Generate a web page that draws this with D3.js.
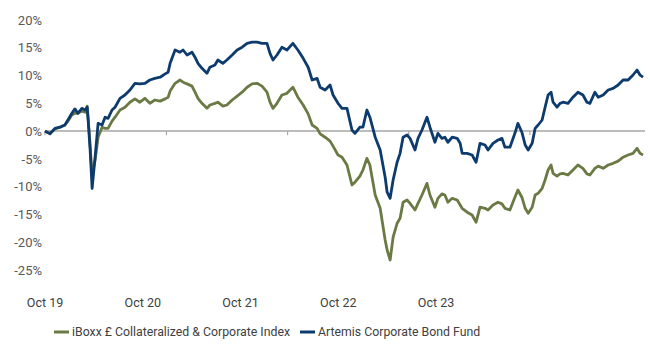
<!DOCTYPE html>
<html>
<head>
<meta charset="utf-8">
<script src="https://cdn.jsdelivr.net/npm/d3@7"></script>
<style>
  body { margin: 0; background: #fff; }
  text { font-family: Roboto, "Liberation Sans", sans-serif; }
</style>
</head>
<body>
<div id="chart-area"></div>
<script>

const dates = [
  '2019-10-01','2019-10-16','2019-10-31','2019-11-15','2019-11-30','2019-12-09','2019-12-21','2019-12-30',
  '2020-01-08','2020-01-20','2020-01-30','2020-02-05','2020-02-08','2020-02-14','2020-02-20','2020-02-29',
  '2020-03-09','2020-03-21','2020-03-30','2020-04-08','2020-04-20','2020-04-29','2020-05-14','2020-05-29',
  '2020-06-13','2020-06-28','2020-07-13','2020-07-28','2020-08-12','2020-08-27','2020-09-12','2020-09-27',
  '2020-10-06','2020-10-12','2020-10-27','2020-11-11','2020-11-20','2020-12-02','2020-12-17','2020-12-26',
  '2021-01-04','2021-01-16','2021-01-31','2021-02-09','2021-02-24','2021-03-05','2021-03-20','2021-04-01',
  '2021-04-17','2021-05-02','2021-05-17','2021-06-01','2021-06-16','2021-07-01','2021-07-16','2021-07-31',
  '2021-08-09','2021-08-18','2021-08-30','2021-09-14','2021-09-29','2021-10-17','2021-11-01','2021-11-17',
  '2021-12-02','2021-12-14','2021-12-29','2022-01-07','2022-01-22','2022-02-06','2022-02-15','2022-03-02',
  '2022-03-14','2022-03-29','2022-04-13','2022-04-22','2022-05-07','2022-05-16','2022-05-28','2022-06-06',
  '2022-06-22','2022-07-07','2022-07-22','2022-07-28','2022-08-06','2022-08-15','2022-08-27','2022-09-05',
  '2022-09-14','2022-09-26','2022-10-05','2022-10-20','2022-10-29','2022-11-10','2022-11-25','2022-12-04',
  '2022-12-19','2022-12-28','2023-01-09','2023-01-18','2023-01-27','2023-02-09','2023-02-24','2023-03-05',
  '2023-03-11','2023-03-26','2023-04-10','2023-04-22','2023-05-04','2023-05-19','2023-05-28','2023-06-12',
  '2023-06-27','2023-07-09','2023-07-18','2023-08-02','2023-08-17','2023-08-26','2023-09-07','2023-09-17',
  '2023-09-26','2023-10-08','2023-10-17','2023-10-26','2023-11-07','2023-11-16','2023-11-25','2023-12-04',
  '2023-12-10','2023-12-22','2023-12-31','2024-01-09','2024-01-24','2024-02-08','2024-02-23','2024-03-09',
  '2024-03-21','2024-03-30','2024-04-14','2024-04-24','2024-05-09','2024-05-24','2024-06-08','2024-06-23',
  '2024-07-08','2024-07-23','2024-08-07','2024-08-19','2024-08-28','2024-09-06'
];

// Artemis Corporate Bond Fund, cumulative %
const fund = [
  0.0,-0.5,0.5,0.7,1.1,2.0,3.2,4.0,
  3.2,4.1,3.8,4.3,2.0,-3.4,-10.3,-4.7,
  1.4,1.1,2.5,2.3,3.8,4.3,5.9,6.5,
  7.4,8.6,8.5,8.6,9.2,9.5,9.7,10.3,
  10.6,12.2,14.6,14.2,14.6,13.7,14.2,13.3,
  12.2,11.3,10.4,11.5,11.9,12.8,12.2,12.8,
  13.7,14.6,15.1,15.8,16.0,16.0,15.8,15.8,
  14.0,12.8,13.7,15.1,14.6,15.8,14.6,13.1,
  11.5,9.2,9.5,7.9,7.4,8.3,6.5,5.0,
  4.1,4.1,0.2,-0.4,0.7,0.7,3.8,2.5,
  -1.1,-3.4,-8.3,-11.0,-12.1,-8.8,-5.6,-4.0,
  -1.1,-0.7,-1.3,-3.4,-1.3,0.2,2.5,0.7,
  -2.0,-0.4,-1.3,-1.1,-2.0,-1.1,-1.3,-2.2,
  -4.0,-4.0,-4.3,-5.6,-2.2,-2.5,-3.4,-2.2,
  -1.6,-1.3,-2.9,-2.9,-0.4,1.4,-0.2,-2.5,
  -3.4,-2.2,0.5,1.1,2.0,4.3,6.5,7.0,
  5.2,4.3,5.0,5.2,5.0,6.1,7.0,6.5,
  5.2,5.0,7.0,6.1,6.5,7.4,7.7,8.3,
  9.2,9.2,10.1,11.0,10.1,9.7
];

// iBoxx £ Collateralized & Corporate Index, cumulative %
const index = [
  0.0,-0.4,0.4,0.7,1.1,1.8,2.9,3.2,
  3.2,3.6,3.4,4.5,2.3,-2.5,-7.9,-5.2,
  -1.1,0.7,0.5,0.5,1.8,2.5,3.8,4.3,
  5.2,5.8,5.2,5.9,5.0,5.6,5.4,5.8,
  6.1,7.2,8.6,9.2,8.8,8.5,8.1,7.0,
  5.9,5.0,4.1,4.7,5.0,5.2,4.5,4.7,
  5.6,6.3,7.0,7.9,8.5,8.6,8.1,7.0,
  5.2,4.1,5.0,6.5,6.8,7.9,6.1,4.7,
  3.1,1.1,0.5,-0.5,-1.1,-1.8,-2.7,-4.3,
  -4.7,-6.1,-9.7,-9.2,-8.1,-7.0,-4.9,-6.1,
  -11.5,-13.9,-19.6,-21.4,-23.2,-19.1,-16.6,-15.7,
  -12.8,-12.4,-13.0,-14.2,-13.0,-11.5,-9.4,-11.5,
  -13.7,-12.1,-11.3,-11.5,-12.8,-12.1,-12.4,-13.3,
  -13.9,-14.6,-15.1,-16.4,-13.7,-13.9,-14.2,-13.3,
  -12.8,-13.1,-13.9,-14.2,-11.9,-10.6,-11.9,-13.9,
  -14.8,-13.7,-11.5,-11.2,-10.3,-8.8,-7.0,-6.1,
  -7.6,-8.1,-7.7,-7.6,-7.9,-7.0,-6.1,-6.7,
  -7.7,-7.9,-6.7,-6.3,-6.7,-6.1,-5.8,-5.4,
  -4.7,-4.3,-4.0,-3.1,-4.0,-4.3
];

const yTicks = [20, 15, 10, 5, 0, -5, -10, -15, -20, -25];
const xLabels = ['Oct 19', 'Oct 20', 'Oct 21', 'Oct 22', 'Oct 23'];
const seriesNames = ['iBoxx £ Collateralized & Corporate Index', 'Artemis Corporate Bond Fund'];
const seriesColors = ['#6b7a45', '#0d3b6e'];

const widthSvg = 650;
const heightSvg = 350;
const plot = { left: 45, right: 645, top: 20, bottom: 270 };

const parse = d3.timeParse('%Y-%m-%d');
const dateValues = dates.map(parse);

const scaleX = d3.scaleTime()
  .domain(d3.extent(dateValues))
  .range([plot.left, 643]);

const scaleY = d3.scaleLinear()
  .domain([-25, 20])
  .range([plot.bottom, plot.top]);

// category labels sit on their own evenly spaced slots, like the original
const scaleLabel = d3.scalePoint()
  .domain(xLabels)
  .range([45, 436]);

const svg = d3.select('#chart-area').append('svg')
  .attr('width', widthSvg)
  .attr('height', heightSvg);

// y labels
const axisY = d3.axisLeft(scaleY)
  .tickValues(yTicks)
  .tickSize(0)
  .tickPadding(3)
  .tickFormat(d => d + '%');

svg.append('g')
  .attr('transform', `translate(${plot.left}, 0)`)
  .call(axisY)
  .call(g => g.select('.domain').remove())
  .selectAll('text')
    .attr('font-size', '13px')
    .attr('fill', '#595959')
    .attr('font-family', 'Roboto, sans-serif');

// zero line with yearly ticks
const yearTicks = [2019, 2020, 2021, 2022, 2023].map(y => new Date(y, 9, 1));

svg.append('line')
  .attr('x1', plot.left)
  .attr('x2', plot.right)
  .attr('y1', scaleY(0))
  .attr('y2', scaleY(0))
  .attr('stroke', '#a6a6a6')
  .attr('stroke-width', 1.5);

svg.selectAll('.year-tick')
  .data(yearTicks)
  .enter()
  .append('line')
    .attr('class', 'year-tick')
    .attr('x1', d => scaleX(d))
    .attr('x2', d => scaleX(d))
    .attr('y1', scaleY(0))
    .attr('y2', scaleY(0) + 4)
    .attr('stroke', '#a6a6a6')
    .attr('stroke-width', 1.2);

// x labels
svg.selectAll('.x-label')
  .data(xLabels)
  .enter()
  .append('text')
    .attr('class', 'x-label')
    .attr('x', d => scaleLabel(d))
    .attr('y', 303)
    .attr('dy', '0.35em')
    .attr('text-anchor', 'middle')
    .attr('font-size', '12.5px')
    .attr('fill', '#404040')
    .text(d => d);

// lines
const line = d3.line()
  .x((d, i) => scaleX(dateValues[i]))
  .y(d => scaleY(d));

[index, fund].forEach((values, i) => {
  svg.append('path')
    .datum(values)
    .attr('d', line)
    .attr('fill', 'none')
    .attr('stroke', seriesColors[i])
    .attr('stroke-width', 2.8)
    .attr('stroke-linejoin', 'round');
});

// legend
const legend = svg.append('g');
const legendX = [54, 300];

seriesNames.forEach((name, i) => {
  const item = legend.append('g')
    .attr('transform', `translate(${legendX[i]}, 332)`);
  item.append('line')
    .attr('x1', 0)
    .attr('x2', 15)
    .attr('stroke', seriesColors[i])
    .attr('stroke-width', 3);
  item.append('text')
    .attr('x', 18)
    .attr('dy', '0.35em')
    .attr('font-size', '12.3px')
    .attr('fill', '#404040')
    .text(name);
});

</script>
</body>
</html>
